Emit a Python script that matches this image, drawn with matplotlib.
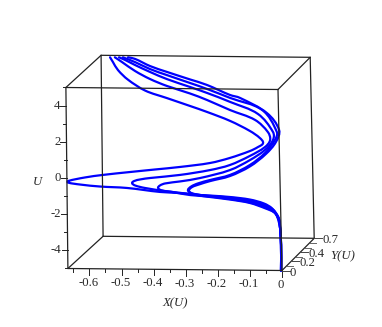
import matplotlib
matplotlib.use("Agg")
import matplotlib.pyplot as plt
from matplotlib.path import Path
from matplotlib.patches import PathPatch
import numpy as np

# Trajectories: X(U), Y(U), U
tail_x = [-0.003, -0.003, -0.006]
tail_y = [0, 0, 0]
tail_u = [-5.0, -3.59, -2.65]

x_a = tail_x + [-0.016,-0.031,-0.056,-0.100,-0.162,-0.224,-0.255,-0.318,-0.380,-0.483,-0.567,-0.629,-0.667,-0.667,-0.614,-0.558,-0.474,-0.396,-0.318,-0.224,-0.162,-0.100,-0.075,-0.059,-0.069,-0.107,-0.176,-0.262,-0.330,-0.416,-0.498,-0.559,-0.597,-0.620,-0.636]
u_a = tail_u + [-1.99,-1.57,-1.30,-1.08,-0.94,-0.86,-0.83,-0.72,-0.66,-0.44,-0.36,-0.25,-0.14,-0.06,0.14,0.28,0.44,0.58,0.72,0.94,1.22,1.60,1.82,2.04,2.32,2.58,3.01,3.25,3.33,3.51,3.67,4.15,4.55,4.87,5.0]
y_a = tail_y + [0]*25 + [0.05,0.1,0.2,0.3,0.4,0.5,0.55,0.6,0.65,0.7]

x_b = tail_x + [-0.012,-0.028,-0.056,-0.100,-0.162,-0.224,-0.287,-0.364,-0.427,-0.458,-0.467,-0.461,-0.442,-0.411,-0.318,-0.224,-0.162,-0.100,-0.053,-0.037,-0.044,-0.091,-0.176,-0.262,-0.330,-0.416,-0.483,-0.544,-0.592,-0.621]
u_b = tail_u + [-2.04,-1.63,-1.38,-1.13,-0.97,-0.88,-0.77,-0.61,-0.44,-0.30,-0.17,-0.06,0.03,0.11,0.28,0.55,0.83,1.33,1.82,2.21,2.65,3.19,3.61,3.91,4.02,4.18,4.31,4.50,4.87,5.0]
y_b = tail_y + [0]*21 + [0.05,0.1,0.2,0.3,0.4,0.5,0.6,0.65,0.7]

x_c = tail_x + [-0.012,-0.028,-0.056,-0.100,-0.162,-0.224,-0.287,-0.343,-0.374,-0.386,-0.380,-0.364,-0.318,-0.255,-0.162,-0.100,-0.053,-0.028,-0.028,-0.082,-0.176,-0.262,-0.330,-0.416,-0.483,-0.544,-0.582,-0.608]
u_c = tail_u + [-2.10,-1.71,-1.44,-1.19,-0.99,-0.91,-0.83,-0.66,-0.58,-0.44,-0.30,-0.19,-0.08,0.11,0.55,1.10,1.66,2.21,2.65,3.52,4.06,4.30,4.38,4.56,4.70,4.83,4.98,5.0]
y_c = tail_y + [0]*19 + [0.05,0.1,0.2,0.3,0.4,0.5,0.6,0.65,0.7]

x_d = tail_x + [-0.009,-0.025,-0.056,-0.100,-0.162,-0.224,-0.265,-0.287,-0.293,-0.283,-0.262,-0.224,-0.162,-0.100,-0.053,-0.022,-0.016,-0.069,-0.176,-0.262,-0.330,-0.416,-0.483,-0.544,-0.596]
u_d = tail_u + [-2.15,-1.77,-1.49,-1.24,-1.05,-0.91,-0.80,-0.69,-0.55,-0.36,-0.19,0.0,0.28,0.83,1.49,2.21,2.65,3.74,4.28,4.52,4.60,4.78,4.86,4.99,5.0]
y_d = tail_y + [0]*17 + [0.05,0.1,0.2,0.3,0.4,0.5,0.6,0.7]

x_e = tail_x + [-0.009,-0.022,-0.050,-0.100,-0.162,-0.224,-0.265,-0.283,-0.290,-0.280,-0.259,-0.224,-0.162,-0.100,-0.050,-0.019,-0.009,-0.054,-0.145,-0.184,-0.277,-0.344,-0.430,-0.497,-0.558,-0.580]
u_e = tail_u + [-2.21,-1.82,-1.58,-1.27,-1.08,-0.94,-0.83,-0.72,-0.58,-0.39,-0.25,-0.06,0.22,0.75,1.44,2.10,2.76,3.57,4.28,4.32,4.49,4.54,4.70,4.77,4.91,5.0]
y_e = tail_y + [0]*17 + [0.05,0.1,0.15,0.3,0.4,0.5,0.6,0.7,0.7]

curves = [(x_a, y_a, u_a), (x_b, y_b, u_b), (x_c, y_c, u_c), (x_d, y_d, u_d), (x_e, y_e, u_e)]

x_ticks = [-0.6, -0.5, -0.4, -0.3, -0.2, -0.1, 0]
x_labels = ["-0.6", "-0.5", "-0.4", "-0.3", "-0.2", "-0.1", "0"]
x_minor = [-0.65, -0.55, -0.45, -0.35, -0.25, -0.15, -0.05]
u_ticks = [4, 2, 0, -2, -4]
u_labels = ["4", "2", "0", "-2", "-4"]
u_minor = [5, 3, 1, -1, -3, -5]
y_ticks = [0, 0.2, 0.4, 0.7]
y_labels = ["0", "0.2", "0.4", "0.7"]
y_minor = [0.1, 0.3, 0.5, 0.6]
x_rng = (-0.667, 0)
y_rng = (0, 0.7)
u_rng = (-5, 5)

BLUE = "#0000ff"
SERIF = "Liberation Serif"
TXT = "#2a2a2a"
FS = 9.2


def project(x, y, u):
    x, y, u = np.asarray(x, float), np.asarray(y, float), np.asarray(u, float)
    return 282 + 321 * x + 46 * y, 180 - 18.1 * u - 46 * y


def frame(x, y, u):
    sx, sy = project(x, y, u)
    x, y, u = float(x), float(y), float(u)
    return (sx - 0.4 * (u + 5) * (1 + 0.75 * x) - 6.4 * x * y,
            sy + 3 * x)


def smooth_path(sx, sy):
    """Smooth Bezier path running through every projected point."""
    p = np.column_stack([sx, sy])
    seg = np.linalg.norm(np.diff(p, axis=0), axis=1)
    tan = np.zeros_like(p)
    tan[1:-1] = p[2:] - p[:-2]
    tan[0] = p[1] - p[0]
    tan[-1] = p[-1] - p[-2]
    tan /= np.maximum(np.linalg.norm(tan, axis=1, keepdims=True), 1e-9)
    verts = [p[0]]
    codes = [Path.MOVETO]
    for i, s in enumerate(seg):
        verts += [p[i] + tan[i] * s / 3, p[i + 1] - tan[i + 1] * s / 3, p[i + 1]]
        codes += [Path.CURVE4] * 3
    return Path(verts, codes)


fig = plt.figure(figsize=(3.82, 3.27), dpi=100)
ax = fig.add_axes([0, 0, 1, 1])
ax.set_xlim(0, 382)
ax.set_ylim(327, 0)
ax.axis("off")


def edge(a, b, color="black", lw=0.8):
    p, q = frame(*a), frame(*b)
    ax.plot([p[0], q[0]], [p[1], q[1]], color=color, lw=lw, solid_capstyle="round")


x0, x1 = x_rng
y0, y1 = y_rng
u0, u1 = u_rng
for a, b in [((x0, y1, u0), (x0, y1, u1)), ((x1, y1, u0), (x1, y1, u1)),
             ((x0, y1, u0), (x1, y1, u0)), ((x0, y1, u1), (x1, y1, u1)),
             ((x0, y0, u0), (x0, y1, u0)), ((x0, y0, u1), (x0, y1, u1)),
             ((x1, y0, u0), (x1, y1, u0)), ((x1, y0, u1), (x1, y1, u1)),
             ((x0, y0, u0), (x0, y0, u1)), ((x1, y0, u0), (x1, y0, u1)),
             ((x0, y0, u0), (x1, y0, u0)), ((x0, y0, u1), (x1, y0, u1))]:
    edge(a, b, color="#222222", lw=0.9)

# X ticks
for v, lab in zip(x_ticks, x_labels):
    px, py = frame(v, y0, u0)
    ax.plot([px, px], [py, py + 6], color="#222222", lw=0.7)
    ax.text(px - 1, py + 14, lab, family=SERIF, fontsize=FS, ha="center", va="center", color=TXT)
for v in x_minor:
    px, py = frame(v, y0, u0)
    ax.plot([px, px], [py, py + 3], color="#222222", lw=0.7)

# U ticks
for v, lab in zip(u_ticks, u_labels):
    px, py = frame(x0, y0, v)
    ax.plot([px - 6, px], [py, py], color="#222222", lw=0.7)
    ax.text(px - 6, py, lab, family=SERIF, fontsize=FS, ha="right", va="center", color=TXT)
for v in u_minor:
    px, py = frame(x0, y0, v)
    ax.plot([px - 3, px], [py, py], color="#222222", lw=0.7)

# Y ticks
for v, lab in zip(y_ticks, y_labels):
    px, py = frame(x1, v, u0)
    ax.plot([px, px + 8], [py, py], color="#444444", lw=0.7)
    ax.text(px + 8, py + 2, lab, family=SERIF, fontsize=FS, ha="left", va="center", color=TXT)
for v in y_minor:
    px, py = frame(x1, v, u0)
    ax.plot([px, px + 6], [py, py], color="#666666", lw=0.7)

# Trajectories
for cx, cy, cu in curves:
    sx, sy = project(cx, cy, cu)
    ax.add_patch(PathPatch(smooth_path(sx, sy), fill=False, edgecolor=BLUE, lw=1.6,
                           joinstyle="round", capstyle="round"))

ax.text(37, 182, "U", family=SERIF, style="italic", fontsize=FS, ha="center", va="center", color=TXT)
ax.text(175, 303, "X(U)", family=SERIF, style="italic", fontsize=FS, ha="center", va="center", color=TXT)
ax.text(343, 256, "Y(U)", family=SERIF, style="italic", fontsize=FS, ha="center", va="center", color=TXT)

fig.savefig("out.png", dpi=100)
